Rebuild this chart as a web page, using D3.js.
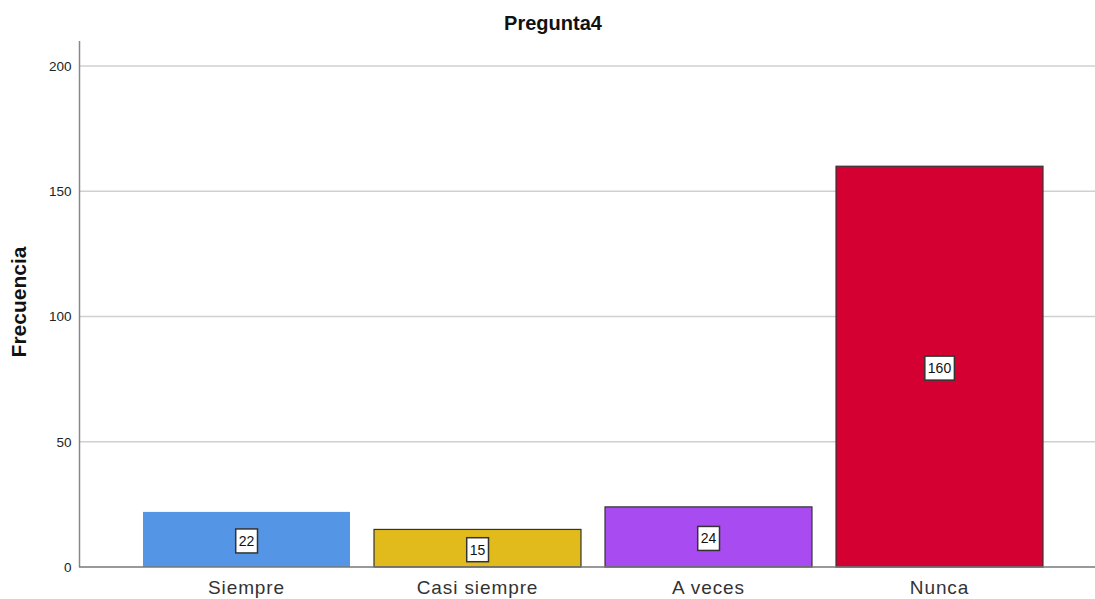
<!DOCTYPE html>
<html><head><meta charset="utf-8">
<script src="https://cdn.jsdelivr.net/npm/d3@7"></script>
<style>body{margin:0;background:#fff}svg{display:block;font-family:Arial,"Liberation Sans",sans-serif}</style>
</head><body><svg id="c" width="1095" height="599"></svg>
<script>
const categories = ["Siempre", "Casi siempre", "A veces", "Nunca"];
const values = [22, 15, 24, 160];
const colors = ["#5595e5", "#e1bb1c", "#a84bf0", "#d50032"];
const yTicks = [0, 50, 100, 150, 200];
const title = "Pregunta4";
const yTitle = "Frecuencia";

const svg = d3.select("#c");
const x = d3.scaleBand().domain(categories).range([131, 1055]).paddingInner(0.104).paddingOuter(0.052);
const y = d3.scaleLinear().domain([0, 210]).range([567, 41]);

// grid
svg.append("g").selectAll("line").data(yTicks.filter(d => d > 0)).join("line")
  .attr("x1", 80).attr("x2", 1095).attr("y1", d => y(d)).attr("y2", d => y(d))
  .attr("stroke", "#d0d0d0").attr("stroke-width", 1.5);

// bars
svg.append("g").selectAll("rect").data(values).join("rect")
  .attr("x", (d, i) => x(categories[i]))
  .attr("y", d => y(d))
  .attr("width", x.bandwidth())
  .attr("height", d => y(0) - y(d))
  .attr("fill", (d, i) => colors[i])
  .attr("stroke", (d, i) => i === 0 ? "none" : "#333")
  .attr("stroke-width", 1.2);

// y axis
const yAxis = svg.append("g").attr("transform", "translate(79.5,0)")
  .call(d3.axisLeft(y).tickValues(yTicks).tickSize(0).tickPadding(8));
yAxis.select(".domain").attr("d", `M0,${y(210)}V${y(0)}`).attr("stroke", "#888").attr("stroke-width", 1.5);
yAxis.selectAll("text").attr("font-size", 13.5).attr("fill", "#222").attr("font-family", "Arial, 'Liberation Sans', sans-serif");

// x axis
const xAxis = svg.append("g").attr("transform", `translate(0,${y(0)})`)
  .call(d3.axisBottom(x).tickSize(0).tickPadding(14));
xAxis.select(".domain").attr("d", "M79,0H1095").attr("stroke", "#777").attr("stroke-width", 1.5);
xAxis.selectAll("text").attr("font-size", 19).attr("letter-spacing", "0.9px").attr("fill", "#333")
  .attr("font-family", "Arial, 'Liberation Sans', sans-serif");

// labels
const lab = svg.append("g").selectAll("g").data(values).join("g")
  .attr("transform", (d, i) => `translate(${x(categories[i]) + x.bandwidth() / 2},${(y(d) + y(0)) / 2 + 1.5})`);
lab.append("text").text(d => d).attr("text-anchor", "middle").attr("dy", "0.36em")
  .attr("font-size", 14).attr("fill", "#111")
  .each(function () {
    const b = this.getBBox();
    d3.select(this.parentNode).insert("rect", "text")
      .attr("x", b.x - 3).attr("y", -12).attr("width", b.width + 6).attr("height", 24)
      .attr("fill", "#fff").attr("stroke", "#333").attr("stroke-width", 1.5);
  });

// title
svg.append("text").attr("x", 553).attr("y", 30).attr("text-anchor", "middle")
  .attr("font-size", 20).attr("font-weight", "bold").attr("fill", "#111").text(title);
svg.append("text").attr("transform", "translate(26,302) rotate(-90)").attr("text-anchor", "middle")
  .attr("font-size", 21).attr("font-weight", "bold").attr("fill", "#111").text(yTitle);
</script></body></html>
